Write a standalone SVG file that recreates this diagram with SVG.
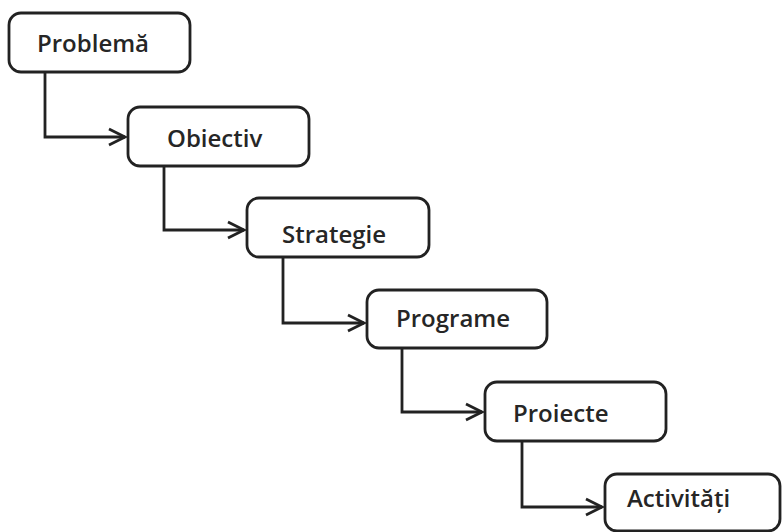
<svg xmlns="http://www.w3.org/2000/svg" width="782" height="532" viewBox="0 0 782 532">
  <defs>
    <style>
      .box { fill: #ffffff; stroke: #222222; stroke-width: 2.8; }
      .lbl { font-family: "Open Sans", "Liberation Sans", sans-serif; font-size: 24px; font-weight: 600; fill: #262626; }
      .conn { fill: none; stroke: #222222; stroke-width: 2.8; }
    </style>
    <marker id="arr" markerUnits="userSpaceOnUse" markerWidth="24" markerHeight="24" refX="18" refY="12" orient="auto" viewBox="0 0 24 24">
      <path d="M2,4 L18,12 L2,20" fill="none" stroke="#222222" stroke-width="2.8" stroke-linejoin="miter"/>
    </marker>
  </defs>
  <rect width="782" height="532" fill="#ffffff"/>
  <g id="connectors">
    <path class="conn" d="M45,72 V137 H125" marker-end="url(#arr)"/>
    <path class="conn" d="M164,166 V230 H244" marker-end="url(#arr)"/>
    <path class="conn" d="M283,257 V323 H364" marker-end="url(#arr)"/>
    <path class="conn" d="M402,348 V412 H482" marker-end="url(#arr)"/>
    <path class="conn" d="M522,441 V507 H602" marker-end="url(#arr)"/>
  </g>
  <g id="n-problema">
    <rect class="box" x="9" y="13" width="181" height="59" rx="12"/>
    <text class="lbl" x="37" y="52">Problemă</text>
  </g>
  <g id="n-obiectiv">
    <rect class="box" x="128" y="107" width="181" height="59" rx="12"/>
    <text class="lbl" x="167" y="147">Obiectiv</text>
  </g>
  <g id="n-strategie">
    <rect class="box" x="247" y="198" width="182" height="59" rx="12"/>
    <text class="lbl" x="282" y="243">Strategie</text>
  </g>
  <g id="n-programe">
    <rect class="box" x="367" y="290" width="180" height="58" rx="12"/>
    <text class="lbl" x="396" y="327">Programe</text>
  </g>
  <g id="n-proiecte">
    <rect class="box" x="485" y="382" width="181" height="59" rx="12"/>
    <text class="lbl" x="513" y="422">Proiecte</text>
  </g>
  <g id="n-activitati">
    <rect class="box" x="605" y="474" width="175" height="57" rx="12"/>
    <text class="lbl" x="627" y="507">Activități</text>
  </g>
</svg>
